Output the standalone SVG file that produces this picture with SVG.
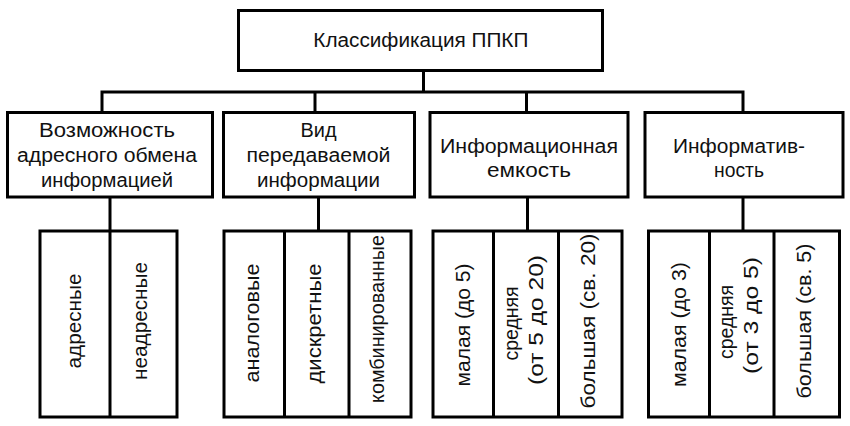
<svg xmlns="http://www.w3.org/2000/svg" width="850" height="426" viewBox="0 0 850 426">
<style>
.box{fill:#fff;stroke:#000;stroke-width:3}
.ln{fill:none;stroke:#000;stroke-width:3}
.t{font-family:"Liberation Sans",Arial,sans-serif;font-size:20px;fill:#111;text-anchor:middle}
</style>
<rect width="850" height="426" fill="#fff"/>
<g id="connectors">
<path class="ln" d="M423.5 70.5V92"/>
<path class="ln" d="M102 112.5V92H743V112.5"/>
<path class="ln" d="M315 92V112.5"/>
<path class="ln" d="M526.5 92V112.5"/>
<path class="ln" d="M110 197V231"/>
<path class="ln" d="M318.5 197V231"/>
<path class="ln" d="M527.5 197V231"/>
<path class="ln" d="M743 197V231"/>
</g>
<g id="root">
<rect class="box" x="238.5" y="10.5" width="364" height="60"/>
<text class="t" x="420.8" y="47" textLength="215" lengthAdjust="spacingAndGlyphs">Классификация ППКП</text>
</g>
<g id="cat1">
<rect class="box" x="7.5" y="112.5" width="205" height="84.5"/>
<text class="t" x="107" y="136.5" textLength="136" lengthAdjust="spacingAndGlyphs">Возможность</text>
<text class="t" x="107" y="161.5" textLength="180" lengthAdjust="spacingAndGlyphs">адресного обмена</text>
<text class="t" x="107" y="186.5" textLength="132" lengthAdjust="spacingAndGlyphs">информацией</text>
</g>
<g id="cat2">
<rect class="box" x="223.5" y="112.5" width="191" height="84.5"/>
<text class="t" x="318.5" y="136.5" textLength="36" lengthAdjust="spacingAndGlyphs">Вид</text>
<text class="t" x="318.5" y="161.5" textLength="144" lengthAdjust="spacingAndGlyphs">передаваемой</text>
<text class="t" x="318.5" y="186.5" textLength="123" lengthAdjust="spacingAndGlyphs">информации</text>
</g>
<g id="cat3">
<rect class="box" x="430" y="112.5" width="198" height="84.5"/>
<text class="t" x="529" y="152.5" textLength="178" lengthAdjust="spacingAndGlyphs">Информационная</text>
<text class="t" x="529" y="177" textLength="84" lengthAdjust="spacingAndGlyphs">емкость</text>
</g>
<g id="cat4">
<rect class="box" x="645" y="112.5" width="198" height="84.5"/>
<text class="t" x="739" y="152.5" textLength="132" lengthAdjust="spacingAndGlyphs">Информатив-</text>
<text class="t" x="739" y="177" textLength="50" lengthAdjust="spacingAndGlyphs">ность</text>
</g>
<g id="group1">
<rect class="box" x="40" y="231" width="137" height="186"/>
<path class="ln" d="M110 231V417"/>
<text class="t" transform="translate(80.5 321) rotate(-90)" textLength="95" lengthAdjust="spacingAndGlyphs">адресные</text>
<text class="t" transform="translate(146.5 321) rotate(-90)" textLength="118" lengthAdjust="spacingAndGlyphs">неадресные</text>
</g>
<g id="group2">
<rect class="box" x="224" y="231" width="187" height="186"/>
<path class="ln" d="M284.5 231V417M349 231V417"/>
<text class="t" transform="translate(259 323) rotate(-90)" textLength="119" lengthAdjust="spacingAndGlyphs">аналоговые</text>
<text class="t" transform="translate(320.5 323.5) rotate(-90)" textLength="120" lengthAdjust="spacingAndGlyphs">дискретные</text>
<text class="t" transform="translate(383.5 319) rotate(-90)" textLength="168" lengthAdjust="spacingAndGlyphs">комбинированные</text>
</g>
<g id="group3">
<rect class="box" x="433" y="231" width="189" height="186"/>
<path class="ln" d="M493.5 231V417M558.5 231V417"/>
<text class="t" transform="translate(470 325) rotate(-90)" textLength="123" lengthAdjust="spacingAndGlyphs">малая (до 5)</text>
<text class="t" transform="translate(518 323.5) rotate(-90)" textLength="74" lengthAdjust="spacingAndGlyphs">средняя</text>
<text class="t" transform="translate(543 320) rotate(-90)" textLength="130" lengthAdjust="spacingAndGlyphs">(от 5 до 20)</text>
<text class="t" transform="translate(595 321) rotate(-90)" textLength="175" lengthAdjust="spacingAndGlyphs">большая (св. 20)</text>
</g>
<g id="group4">
<rect class="box" x="648.5" y="231" width="191" height="186"/>
<path class="ln" d="M709.5 231V417M774 231V417"/>
<text class="t" transform="translate(686 324.5) rotate(-90)" textLength="125" lengthAdjust="spacingAndGlyphs">малая (до 3)</text>
<text class="t" transform="translate(733 322) rotate(-90)" textLength="74" lengthAdjust="spacingAndGlyphs">средняя</text>
<text class="t" transform="translate(758 315.5) rotate(-90)" textLength="117" lengthAdjust="spacingAndGlyphs">(от 3 до 5)</text>
<text class="t" transform="translate(811 321) rotate(-90)" textLength="155" lengthAdjust="spacingAndGlyphs">большая (св. 5)</text>
</g>
</svg>
